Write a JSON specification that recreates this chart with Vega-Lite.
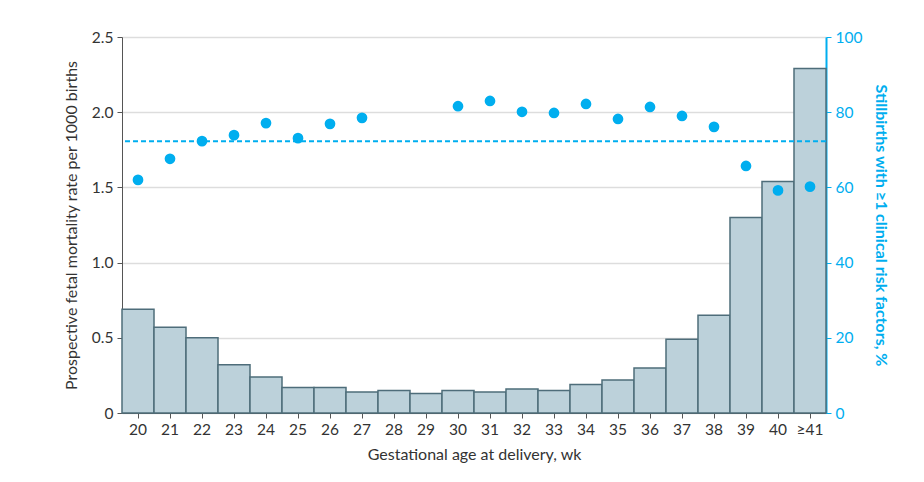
{
  "$schema": "https://vega.github.io/schema/vega-lite/v6.json",
  "width": 704,
  "height": 376,
  "autosize": {"type": "none"},
  "padding": {"left": 122, "top": 37, "right": 98, "bottom": 69},
  "background": "white",
  "config": {
    "font": "Lato",
    "view": {"stroke": null},
    "axis": {
      "labelFont": "Lato",
      "titleFont": "Lato",
      "labelFontSize": 15.5,
      "titleFontSize": 16,
      "labelColor": "#333333",
      "titleColor": "#333333",
      "titleFontWeight": "normal",
      "domainColor": "#555555",
      "tickColor": "#555555",
      "tickSize": 5
    }
  },
  "data": {
    "values": [
      {"week": "20", "rate": 0.69, "pct": 62.0},
      {"week": "21", "rate": 0.57, "pct": 67.6},
      {"week": "22", "rate": 0.50, "pct": 72.3},
      {"week": "23", "rate": 0.32, "pct": 73.9},
      {"week": "24", "rate": 0.24, "pct": 77.1},
      {"week": "25", "rate": 0.17, "pct": 73.1},
      {"week": "26", "rate": 0.17, "pct": 76.9},
      {"week": "27", "rate": 0.14, "pct": 78.5},
      {"week": "28", "rate": 0.15, "pct": null},
      {"week": "29", "rate": 0.13, "pct": null},
      {"week": "30", "rate": 0.15, "pct": 81.6},
      {"week": "31", "rate": 0.14, "pct": 83.0},
      {"week": "32", "rate": 0.16, "pct": 80.1},
      {"week": "33", "rate": 0.15, "pct": 79.8},
      {"week": "34", "rate": 0.19, "pct": 82.2},
      {"week": "35", "rate": 0.22, "pct": 78.2},
      {"week": "36", "rate": 0.30, "pct": 81.4},
      {"week": "37", "rate": 0.49, "pct": 79.0},
      {"week": "38", "rate": 0.65, "pct": 76.1},
      {"week": "39", "rate": 1.30, "pct": 65.7},
      {"week": "40", "rate": 1.54, "pct": 59.2},
      {"week": "≥41", "rate": 2.29, "pct": 60.2}
    ]
  },
  "layer": [
    {
      "mark": {"type": "bar", "fill": "#BCD1DA", "stroke": "#4E6D7A", "strokeWidth": 1.5},
      "encoding": {
        "x": {
          "field": "week", "type": "ordinal", "sort": null,
          "scale": {"paddingInner": 0, "paddingOuter": 0},
          "axis": {"labelAngle": 0, "title": "Gestational age at delivery, wk", "labelPadding": 4, "titlePadding": 9, "grid": false}
        },
        "y": {
          "field": "rate", "type": "quantitative",
          "scale": {"domain": [0, 2.5], "nice": false},
          "axis": {
            "orient": "left",
            "values": [0, 0.5, 1, 1.5, 2, 2.5],
            "labelExpr": "datum.value == 0 ? '0' : format(datum.value, '.1f')",
            "title": "Prospective fetal mortality rate per 1000 births",
            "grid": true, "gridColor": "#dddddd", "gridWidth": 1.5,
            "labelPadding": 4, "titlePadding": 12
          }
        }
      }
    },
    {
      "layer": [
        {
          "data": {"values": [{"ref": 72.3}]},
          "mark": {"type": "rule", "color": "#00AEEF", "strokeDash": [5, 3], "strokeWidth": 2},
          "encoding": {
            "y": {
              "field": "ref", "type": "quantitative",
              "scale": {"domain": [0, 100], "nice": false},
              "axis": {
                "orient": "right",
                "values": [0, 20, 40, 60, 80, 100],
                "title": "Stillbirths with ≥1 clinical risk factors, %",
                "titleColor": "#00AEEF", "titleFontWeight": "bold",
                "labelColor": "#00AEEF", "domainColor": "#00AEEF", "tickColor": "#00AEEF",
                "domainWidth": 2, "grid": false,
                "labelPadding": 4, "titlePadding": 11
              }
            }
          }
        },
        {
          "mark": {"type": "circle", "size": 115, "color": "#00AEEF", "opacity": 1},
          "encoding": {
            "x": {"field": "week", "type": "ordinal", "sort": null},
            "y": {"field": "pct", "type": "quantitative"}
          }
        }
      ]
    }
  ],
  "resolve": {"scale": {"y": "independent"}}
}
